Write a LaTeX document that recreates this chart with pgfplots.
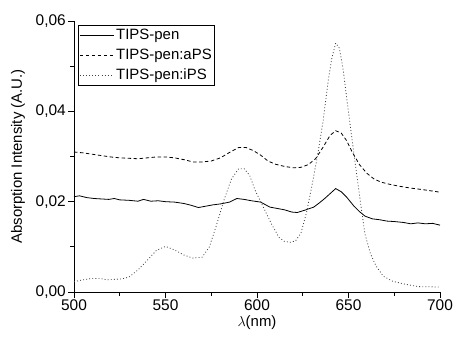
\documentclass[border=0pt]{standalone}
\usepackage{fontspec}
\setmainfont{Liberation Sans}
\usepackage{pgfplots}
\pgfplotsset{compat=1.18}
\begin{document}
\begin{tikzpicture}
\begin{axis}[
  scale only axis,
  width=366bp, height=271bp,
  xmin=500, xmax=700, ymin=0, ymax=0.06,
  axis x line*=bottom, axis y line*=left,
  xtick={500,550,600,650,700},
  ytick={0,0.02,0.04,0.06},
  minor x tick num=1, minor y tick num=1,
  tick align=outside,
  major tick length=6bp, minor tick length=3.5bp,
  scaled y ticks=false,
  /pgf/number format/assume math mode=true,
  yticklabel style={/pgf/number format/.cd, use comma, fixed, fixed zerofill, precision=2},
  xticklabel style={/pgf/number format/.cd, 1000 sep={}},
  tick label style={font=\fontsize{15.5}{18}\selectfont, black},
  label style={font=\fontsize{15}{18}\selectfont},
  xlabel={$\lambda$(nm)},
  ylabel={Absorption Intensity (A.U.)},
  xlabel style={at={(axis description cs:0.5,-0.114)}, anchor=center},
  ylabel style={at={(axis description cs:-0.153,0.5)}, anchor=center, rotate=0},
  every tick label/.append style={inner sep=2bp},
  legend style={at={(rel axis cs:0.011,0.985)}, anchor=north west, draw=black, line width=0.8pt,
    font=\fontsize{15}{17}\selectfont, inner xsep=1bp, inner ysep=2bp, row sep=3.8bp, cells={anchor=west}},
  legend image code/.code={\draw[#1] (0bp,0bp) -- (34bp,0bp);},
  axis line style={line width=0.7pt},
  every tick/.style={black, line width=0.7pt},
  clip=false,
]
\addplot[black, line width=0.8pt] coordinates {
(500,0.0211) (503,0.0213) (507,0.0209) (511,0.0207) (515,0.0206) (519,0.0205) (522,0.0207)
(525,0.0204) (530,0.0203) (535,0.0201) (538,0.0205) (542,0.0201) (546,0.0202) (550,0.0200)
(555,0.0199) (560,0.0196) (564,0.0192) (568,0.0187) (572,0.0190) (576,0.0193) (580,0.0195)
(585,0.0199) (589,0.0207) (593,0.0205) (597,0.0202) (602,0.0199) (607,0.0188) (611,0.0185)
(615,0.0182) (619,0.0177) (622,0.0176) (626,0.0181) (631,0.0188) (634,0.0197) (637,0.0207)
(640,0.0218) (643,0.0229) (646,0.0222) (649,0.0210) (653,0.0190) (656,0.0178) (659,0.0168)
(663,0.0162) (667,0.0160) (671,0.0157) (675,0.0156) (680,0.0154) (684,0.0151) (688,0.0153)
(692,0.0151) (696,0.0152) (700,0.0148)
};
\addlegendentry{TIPS-pen}
\addplot[black, line width=0.8pt, dash pattern=on 3.5bp off 2.5bp] coordinates {
(500,0.0310) (505,0.0308) (510,0.0305) (515,0.0302) (520,0.0299) (525,0.0297) (530,0.0296)
(535,0.0295) (540,0.0297) (545,0.0299) (550,0.0299) (555,0.0297) (560,0.0293) (565,0.0288)
(570,0.0288) (575,0.0290) (580,0.0297) (585,0.0309) (590,0.0320) (594,0.0320) (598,0.0313)
(602,0.0303) (606,0.0290) (610,0.0283) (615,0.0278) (620,0.0275) (624,0.0276) (628,0.0282)
(632,0.0295) (636,0.0320) (640,0.0347) (643,0.0357) (646,0.0352) (649,0.0335) (652,0.0310)
(656,0.0282) (660,0.0263) (664,0.0250) (668,0.0243) (673,0.0238) (678,0.0234) (684,0.0230)
(690,0.0227) (695,0.0224) (700,0.0221)
};
\addlegendentry{TIPS-pen:aPS}
\addplot[black!75, line width=0.8pt, dash pattern=on 0.9bp off 2.2bp] coordinates {
(500,0.0023) (505,0.0027) (510,0.0030) (514,0.0030) (518,0.0027) (522,0.0028) (526,0.0029)
(530,0.0033) (535,0.0049) (540,0.0070) (545,0.0092) (550,0.0101) (555,0.0093) (560,0.0082)
(565,0.0075) (570,0.0077) (574,0.0100) (578,0.0150) (582,0.0204) (586,0.0250) (590,0.0273)
(593,0.0273) (596,0.0258) (599,0.0225) (602,0.0200) (605,0.0175) (608,0.0150) (612,0.0121)
(615,0.0112) (618,0.0110) (621,0.0113) (624,0.0130) (627,0.0175) (630,0.0235) (633,0.0300)
(636,0.0375) (639,0.0470) (641,0.0520) (643,0.0551) (645,0.0540) (647,0.0495) (649,0.0430)
(651,0.0367) (653,0.0305) (655,0.0245) (657,0.0185) (659,0.0128) (662,0.0085) (665,0.0058)
(669,0.0035) (674,0.0024) (680,0.0018) (688,0.0012) (700,0.0011)
};
\addlegendentry{TIPS-pen:iPS}
\coordinate (O) at (rel axis cs:0,0);
\end{axis}
\pgfresetboundingbox
\path ([shift={(-74bp,-47bp)}]O) rectangle ([shift={(380bp,292bp)}]O);
\end{tikzpicture}
\end{document}
